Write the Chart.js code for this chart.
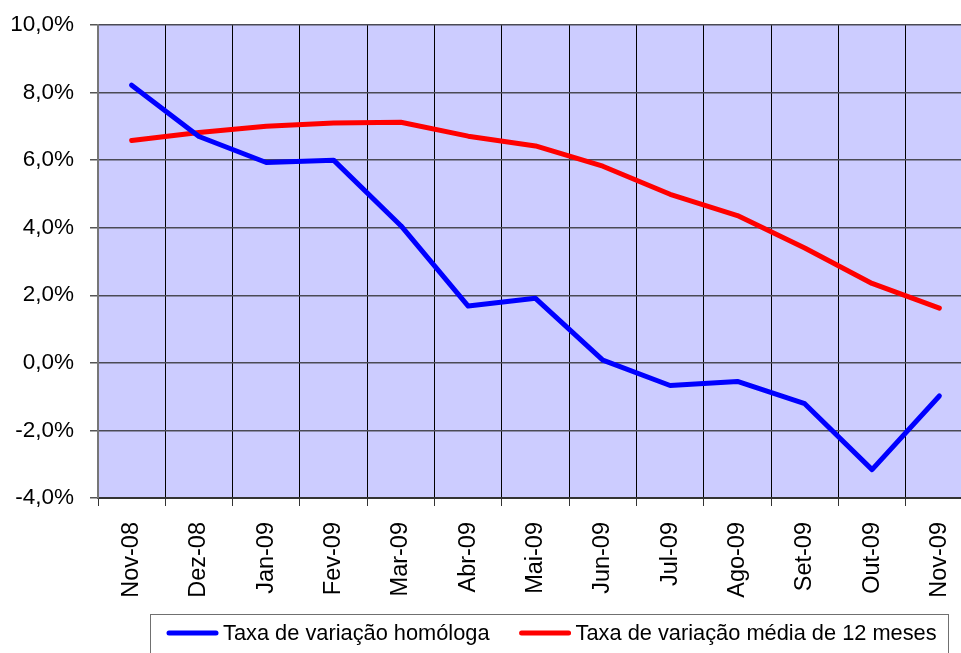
<!DOCTYPE html>
<html>
<head>
<meta charset="utf-8">
<script src="https://cdn.jsdelivr.net/npm/chart.js"></script>
<style>
    html, body { margin: 0; padding: 0; background: #fff; overflow: hidden; }
    #wrap { width: 961px; height: 653px; overflow: hidden; position: relative; }
    #box { width: 980px; height: 660px; position: absolute; left: 0; top: 0; }
</style>
</head>
<body>
<div id="wrap"><div id="box"><canvas id="taxaChart"></canvas></div></div>
<script>
// months shown on the category axis
const months = ['Nov-08', 'Dez-08', 'Jan-09', 'Fev-09', 'Mar-09', 'Abr-09', 'Mai-09',
    'Jun-09', 'Jul-09', 'Ago-09', 'Set-09', 'Out-09', 'Nov-09'];

// values in percent
const homologa = [8.22, 6.70, 5.93, 6.00, 4.06, 1.68, 1.91, 0.08, -0.67, -0.55, -1.21, -3.16, -0.98];
const media12 = [6.58, 6.82, 7.00, 7.10, 7.12, 6.71, 6.42, 5.82, 4.99, 4.36, 3.40, 2.35, 1.62];

const seriesNames = ['Taxa de variação homóloga', 'Taxa de variação média de 12 meses'];
const yTicks = [-4, -2, 0, 2, 4, 6, 8, 10];

const FONT = 'Arial, "Liberation Sans", sans-serif';

// plot background (light lavender like the Excel original)
const plotBackground = {
    id: 'plotBackground',
    beforeDraw(chart) {
        const { ctx, chartArea: a } = chart;
        ctx.save();
        ctx.fillStyle = '#CCCCFF';
        ctx.fillRect(a.left, a.top, a.right - a.left, a.bottom - a.top);
        ctx.restore();
    }
};

// boxed legend under the axis labels
const boxLegend = {
    id: 'boxLegend',
    afterDraw(chart) {
        const ctx = chart.ctx;
        const top = 614, left = 150, right = 948;
        const midY = 633;
        ctx.save();
        ctx.strokeStyle = '#707070';
        ctx.lineWidth = 1;
        ctx.strokeRect(left + 0.5, top + 0.5, right - left, 80);

        ctx.font = '21.8px ' + FONT;
        ctx.textBaseline = 'middle';
        ctx.fillStyle = '#000';
        let x = 167;
        chart.data.datasets.forEach(ds => {
            ctx.strokeStyle = ds.borderColor;
            ctx.lineWidth = 5;
            ctx.lineCap = 'round';
            ctx.beginPath();
            ctx.moveTo(x + 2, midY);
            ctx.lineTo(x + 49, midY);
            ctx.stroke();
            x += 56;
            ctx.fillText(ds.label, x, midY + 1);
            x += ctx.measureText(ds.label).width + 30;
        });
        ctx.restore();
    }
};

const ctx = document.getElementById('taxaChart').getContext('2d');
new Chart(ctx, {
    type: 'line',
    data: {
        labels: months,
        datasets: [
            {
                label: seriesNames[0],
                data: homologa,
                borderColor: '#0000FF',
                borderWidth: 5,
                borderCapStyle: 'round',
                borderJoinStyle: 'round',
                pointRadius: 0,
                tension: 0,
                fill: false
            },
            {
                label: seriesNames[1],
                data: media12,
                borderColor: '#FF0000',
                borderWidth: 5,
                borderCapStyle: 'round',
                borderJoinStyle: 'round',
                pointRadius: 0,
                tension: 0,
                fill: false
            }
        ]
    },
    options: {
        responsive: true,
        maintainAspectRatio: false,
        animation: false,
        layout: { padding: { top: 25, right: 7, bottom: 0, left: 0 } },
        plugins: {
            legend: { display: false },
            tooltip: { enabled: false }
        },
        scales: {
            x: {
                offset: true,
                grid: {
                    offset: true,
                    color: '#000',
                    lineWidth: 1,
                    tickLength: 8,
                    tickColor: '#333'
                },
                border: { color: '#333', width: 2 },
                ticks: {
                    autoSkip: false,
                    maxRotation: 90,
                    minRotation: 90,
                    padding: 16,
                    color: '#000',
                    font: { family: FONT, size: 23.5 }
                },
                afterFit(scale) {
                    scale.height = 162;
                    scale.paddingLeft = 0;
                    scale.paddingRight = 0;
                }
            },
            y: {
                min: -4,
                max: 10,
                afterBuildTicks(scale) { scale.ticks = yTicks.map(v => ({ value: v })); },
                grid: {
                    color: '#4a4a55',
                    lineWidth: 1.5,
                    tickLength: 8,
                    tickColor: '#555'
                },
                border: { color: '#777', width: 2 },
                ticks: {
                    padding: 16,
                    color: '#000',
                    font: { family: FONT, size: 22.5 },
                    callback: v => v.toFixed(1).replace('.', ',') + '%'
                },
                afterFit(scale) {
                    scale.width = 98;
                    // labels may hang over the plot edges, no extra room needed
                    scale.paddingTop = 0;
                    scale.paddingBottom = 0;
                }
            }
        }
    },
    plugins: [plotBackground, boxLegend]
});
</script>
</body>
</html>
